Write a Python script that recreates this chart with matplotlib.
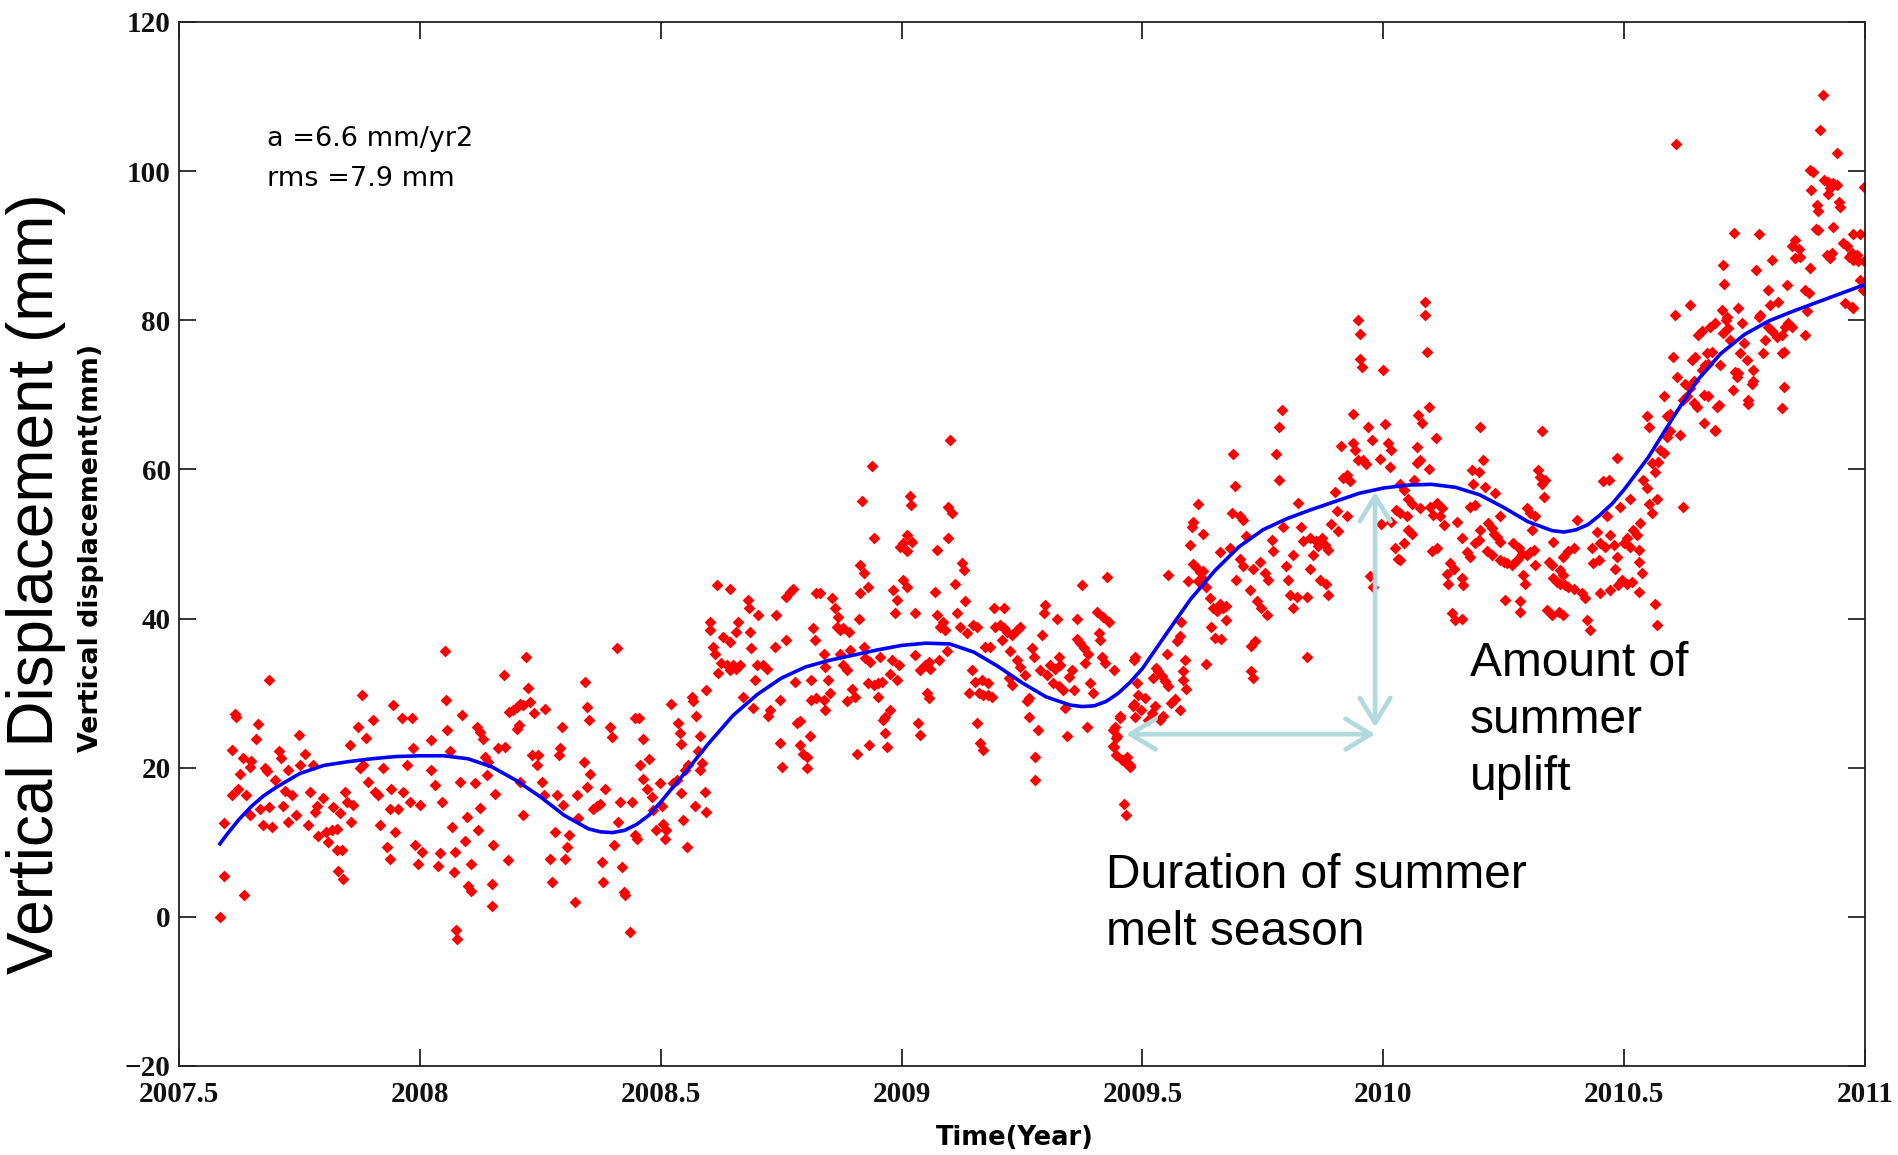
import numpy as np
import matplotlib
matplotlib.use('Agg')
import matplotlib.pyplot as plt

# smoothed fit (blue curve)
fit_year = [2007.585, 2007.60, 2007.625, 2007.65, 2007.675, 2007.70, 2007.75, 2007.80,
            2007.85, 2007.90, 2007.95, 2008.00, 2008.05, 2008.10, 2008.15, 2008.20,
            2008.25, 2008.30, 2008.35, 2008.375, 2008.40, 2008.425, 2008.45, 2008.475,
            2008.50, 2008.55, 2008.60, 2008.65, 2008.70, 2008.75, 2008.80, 2008.85,
            2008.90, 2008.95, 2009.00, 2009.05, 2009.10, 2009.15, 2009.20, 2009.25,
            2009.30, 2009.35, 2009.375, 2009.40, 2009.425, 2009.45, 2009.475, 2009.50,
            2009.55, 2009.60, 2009.65, 2009.70, 2009.75, 2009.80, 2009.85, 2009.90,
            2009.95, 2010.00, 2010.05, 2010.10, 2010.15, 2010.20, 2010.25, 2010.30,
            2010.35, 2010.375, 2010.40, 2010.425, 2010.45, 2010.475, 2010.50, 2010.55,
            2010.60, 2010.65, 2010.70, 2010.75, 2010.80, 2010.85, 2010.90, 2010.95,
            2011.00]
fit_mm = [9.8, 11.1, 13.1, 14.8, 16.2, 17.3, 19.2, 20.3,
          20.8, 21.2, 21.5, 21.6, 21.6, 21.2, 20.1, 18.3,
          16.1, 13.6, 11.8, 11.4, 11.3, 11.6, 12.4, 13.6,
          15.4, 19.3, 23.3, 27.0, 29.8, 32.0, 33.5, 34.4,
          35.1, 35.8, 36.4, 36.7, 36.6, 35.5, 33.6, 31.4,
          29.5, 28.4, 28.2, 28.3, 28.9, 30.0, 31.5, 33.3,
          38.0, 42.6, 46.4, 49.6, 51.9, 53.4, 54.6, 55.7,
          56.8, 57.5, 57.9, 58.0, 57.6, 56.6, 54.9, 53.0,
          51.8, 51.6, 51.9, 52.6, 53.9, 55.4, 57.3, 61.6,
          66.8, 71.8, 75.5, 78.1, 79.9, 81.2, 82.4, 83.6,
          84.8]

# daily GPS solutions, grouped by stretch of time (year, mm)
pts_2007 = [
    (2007.585, 0.0), (2007.593, 5.5), (2007.593, 12.6), (2007.609, 22.4), (2007.609, 16.3),
    (2007.616, 27.2), (2007.618, 26.8), (2007.627, 19.2), (2007.623, 17.2), (2007.633, 21.3),
    (2007.635, 2.9), (2007.640, 16.3), (2007.647, 13.6), (2007.650, 20.9), (2007.647, 20.1),
    (2007.660, 23.9), (2007.663, 25.8), (2007.668, 14.5), (2007.675, 12.3), (2007.678, 19.9),
    (2007.683, 19.5), (2007.686, 31.8), (2007.687, 14.7), (2007.694, 12.1), (2007.699, 18.3),
    (2007.708, 22.2), (2007.711, 21.3), (2007.716, 14.9), (2007.720, 16.9), (2007.727, 19.7),
    (2007.727, 12.7), (2007.734, 16.3), (2007.743, 13.6), (2007.750, 24.4), (2007.752, 20.4),
    (2007.762, 21.9), (2007.768, 12.3), (2007.772, 16.8), (2007.779, 20.4), (2007.782, 14.0),
    (2007.786, 14.9), (2007.789, 10.9), (2007.798, 15.9), (2007.806, 11.4), (2007.817, 11.6),
    (2007.827, 11.8), (2007.810, 10.1), (2007.820, 14.7), (2007.827, 9.0), (2007.838, 9.0),
    (2007.831, 6.2), (2007.841, 5.1), (2007.834, 13.9), (2007.845, 16.8), (2007.848, 15.4),
    (2007.855, 23.0), (2007.858, 12.7), (2007.862, 15.0), (2007.871, 25.5), (2007.876, 19.9),
    (2007.883, 20.4), (2007.879, 29.8), (2007.889, 24.0), (2007.893, 18.1), (2007.903, 26.4),
    (2007.907, 16.8), (2007.914, 16.3), (2007.917, 12.3), (2007.924, 19.9), (2007.931, 9.4),
    (2007.937, 7.8), (2007.938, 14.5), (2007.941, 17.2), (2007.945, 28.4), (2007.948, 11.4),
    (2007.955, 14.5), (2007.962, 26.7), (2007.983, 26.7), (2007.966, 16.8), (2007.973, 20.4),
    (2007.980, 15.4), (2007.986, 22.6), (2007.990, 9.6), (2007.997, 7.1), (2008.000, 15.0),
    (2008.004, 8.7), (2008.024, 23.7), (2008.024, 19.7), (2008.031, 17.7), (2008.038, 6.8),
    (2008.042, 8.5), (2008.045, 15.4), (2008.052, 35.6), (2008.054, 29.1), (2008.056, 25.1),
    (2008.063, 22.2), (2008.066, 12.1), (2008.070, 6.0), (2008.073, 8.7), (2008.075, -1.8),
    (2008.078, -3.0), (2008.083, 18.1), (2008.087, 27.1), (2008.094, 10.2), (2008.097, 13.4),
    (2008.100, 4.2), (2008.107, 3.5), (2008.107, 7.1), (2008.114, 17.9), (2008.118, 25.5),
    (2008.125, 24.8), (2008.132, 23.9), (2008.121, 11.6), (2008.125, 14.6), (2008.135, 21.4),
    (2008.142, 20.8), (2008.139, 19.0), (2008.149, 4.4), (2008.149, 1.5), (2008.152, 9.6),
    (2008.156, 16.5), (2008.163, 22.6),
]

pts_2008a = [
    (2008.174, 32.4), (2008.177, 22.8), (2008.184, 7.6), (2008.186, 27.5), (2008.194, 27.7),
    (2008.201, 28.1), (2008.208, 28.6), (2008.215, 28.4), (2008.201, 25.2), (2008.205, 25.7),
    (2008.208, 18.1), (2008.215, 13.6), (2008.221, 34.9), (2008.224, 30.7), (2008.229, 28.8),
    (2008.232, 21.7), (2008.246, 21.7), (2008.236, 27.3), (2008.243, 20.3), (2008.253, 18.1),
    (2008.260, 27.9), (2008.257, 16.3), (2008.270, 7.8), (2008.274, 4.7), (2008.281, 11.4),
    (2008.284, 16.3), (2008.288, 21.7), (2008.291, 22.6), (2008.295, 25.5), (2008.298, 15.0),
    (2008.302, 7.8), (2008.305, 9.4), (2008.309, 11.0), (2008.322, 2.0), (2008.326, 16.3),
    (2008.329, 13.2), (2008.340, 20.8), (2008.343, 31.5), (2008.347, 28.2), (2008.352, 26.4),
    (2008.347, 17.4), (2008.354, 19.2), (2008.360, 14.4), (2008.367, 14.8), (2008.374, 15.2),
    (2008.378, 7.4), (2008.381, 4.7), (2008.385, 17.2), (2008.395, 25.5), (2008.399, 24.1),
    (2008.402, 9.6), (2008.409, 36.0), (2008.412, 12.7), (2008.416, 15.4), (2008.419, 6.7),
    (2008.423, 3.3), (2008.426, 2.9), (2008.437, -2.0), (2008.440, 15.4), (2008.447, 26.6),
    (2008.454, 26.6), (2008.447, 11.0), (2008.450, 10.5), (2008.457, 20.3), (2008.464, 23.9),
    (2008.464, 18.5), (2008.471, 17.2), (2008.475, 21.2),
]

pts_2008b = [
    (2008.481, 16.1), (2008.484, 14.3), (2008.491, 11.6), (2008.498, 17.9), (2008.502, 14.8),
    (2008.505, 12.5), (2008.512, 11.6), (2008.509, 10.5), (2008.522, 28.6), (2008.526, 17.9),
    (2008.533, 18.4), (2008.536, 26.0), (2008.540, 24.6), (2008.543, 23.2), (2008.543, 16.6),
    (2008.547, 13.0), (2008.550, 19.7), (2008.557, 20.4), (2008.554, 9.4), (2008.564, 29.5),
    (2008.567, 28.9), (2008.571, 14.8), (2008.574, 26.9), (2008.578, 22.2), (2008.581, 24.2),
    (2008.581, 19.7), (2008.585, 20.6), (2008.592, 16.8), (2008.595, 30.4), (2008.595, 14.1),
    (2008.602, 39.6), (2008.603, 38.5), (2008.609, 36.2), (2008.616, 44.5), (2008.612, 35.3),
    (2008.619, 32.7), (2008.626, 34.0), (2008.637, 33.8), (2008.643, 33.1), (2008.650, 33.8),
    (2008.657, 33.3), (2008.664, 33.8), (2008.630, 37.5), (2008.643, 36.9), (2008.644, 44.0),
    (2008.657, 38.2), (2008.661, 39.6), (2008.670, 29.5), (2008.682, 42.5), (2008.684, 41.4),
    (2008.685, 38.2), (2008.688, 36.0), (2008.692, 28.0), (2008.695, 31.8), (2008.699, 33.8),
    (2008.713, 33.8), (2008.720, 33.3), (2008.702, 40.5), (2008.723, 26.9), (2008.727, 27.7),
    (2008.737, 36.2), (2008.740, 40.5), (2008.747, 29.1), (2008.747, 23.3), (2008.751, 20.1),
    (2008.761, 42.9), (2008.768, 43.6), (2008.775, 44.0), (2008.761, 37.1), (2008.778, 31.5),
    (2008.782, 26.0), (2008.789, 26.2), (2008.789, 23.0), (2008.796, 21.9), (2008.803, 21.5),
    (2008.803, 19.9), (2008.813, 31.8), (2008.817, 38.7), (2008.820, 37.1), (2008.823, 43.4),
    (2008.823, 29.3), (2008.810, 24.2), (2008.813, 29.1),
]

pts_2009a = [
    (2008.831, 43.4), (2008.838, 35.3), (2008.841, 33.5), (2008.838, 29.1), (2008.841, 27.7),
    (2008.848, 31.8), (2008.852, 30.0), (2008.855, 42.7), (2008.862, 41.4), (2008.866, 38.9),
    (2008.873, 38.5), (2008.879, 38.7), (2008.890, 38.2), (2008.869, 40.2), (2008.873, 35.3),
    (2008.879, 33.8), (2008.886, 33.1), (2008.886, 28.9), (2008.893, 35.8), (2008.897, 30.6),
    (2008.904, 29.5), (2008.907, 21.9), (2008.911, 40.0), (2008.914, 47.2), (2008.921, 46.1),
    (2008.918, 55.7), (2008.914, 43.4), (2008.931, 44.3), (2008.921, 36.2), (2008.924, 34.7),
    (2008.935, 34.2), (2008.931, 31.3), (2008.933, 23.0), (2008.938, 60.4), (2008.942, 50.8),
    (2008.942, 31.1), (2008.952, 31.3), (2008.959, 31.5), (2008.952, 29.5), (2008.956, 34.9),
    (2008.962, 26.4), (2008.966, 26.8), (2008.966, 24.6), (2008.969, 22.8), (2008.976, 27.7),
    (2008.976, 32.6), (2008.980, 34.4), (2008.983, 43.8), (2008.990, 42.5), (2008.987, 40.7),
    (2008.990, 31.8), (2008.994, 33.8), (2008.997, 49.6), (2009.004, 50.1), (2009.004, 45.2),
    (2009.011, 44.3), (2009.011, 51.2), (2009.021, 50.3), (2009.012, 49.0), (2009.018, 56.4),
    (2009.019, 55.2), (2009.028, 40.7), (2009.028, 35.1), (2009.035, 26.0), (2009.039, 24.4),
    (2009.039, 33.1), (2009.049, 33.8), (2009.056, 34.2), (2009.059, 33.3), (2009.052, 30.0),
    (2009.056, 29.3), (2009.070, 43.6), (2009.073, 49.2), (2009.073, 40.5), (2009.080, 38.9),
    (2009.087, 39.6), (2009.091, 38.5), (2009.077, 34.4), (2009.094, 35.6), (2009.097, 55.0),
    (2009.104, 54.1), (2009.097, 50.8), (2009.101, 63.9), (2009.111, 44.7), (2009.115, 40.7),
    (2009.122, 38.9), (2009.125, 47.4), (2009.129, 46.5), (2009.132, 42.3), (2009.135, 38.0),
    (2009.139, 30.0), (2009.146, 33.1), (2009.149, 39.1), (2009.156, 38.9), (2009.153, 31.5),
    (2009.160, 30.0), (2009.170, 29.8), (2009.180, 29.8), (2009.187, 29.5), (2009.156, 26.0),
    (2009.163, 23.3), (2009.170, 22.4), (2009.167, 31.8), (2009.174, 36.2), (2009.184, 36.2),
    (2009.180, 31.3),
]

pts_2009b = [
    (2009.191, 41.4), (2009.212, 41.4), (2009.194, 38.9), (2009.205, 39.1), (2009.212, 38.7),
    (2009.219, 38.2), (2009.229, 37.8), (2009.239, 38.5), (2009.246, 38.9), (2009.208, 37.1),
    (2009.222, 32.0), (2009.225, 35.6), (2009.229, 31.1), (2009.239, 34.4), (2009.246, 33.5),
    (2009.257, 32.4), (2009.264, 29.3), (2009.260, 28.9), (2009.264, 26.8), (2009.270, 36.0),
    (2009.274, 34.9), (2009.277, 21.5), (2009.277, 18.4), (2009.284, 25.1), (2009.288, 33.1),
    (2009.291, 37.8), (2009.295, 40.7), (2009.298, 41.8), (2009.302, 32.4), (2009.308, 33.8),
    (2009.319, 33.3), (2009.329, 33.8), (2009.315, 31.3), (2009.326, 30.9), (2009.336, 30.4),
    (2009.322, 40.0), (2009.326, 34.9), (2009.340, 28.0), (2009.343, 24.2), (2009.347, 32.2),
    (2009.353, 33.1), (2009.357, 30.4), (2009.364, 40.0), (2009.364, 37.3), (2009.371, 36.7),
    (2009.378, 36.0), (2009.374, 44.5), (2009.381, 34.0), (2009.385, 25.5), (2009.388, 35.3),
    (2009.392, 31.3), (2009.398, 30.0), (2009.405, 40.9), (2009.419, 40.2), (2009.430, 39.6),
    (2009.409, 38.0), (2009.412, 37.1), (2009.416, 34.9), (2009.426, 45.6), (2009.423, 34.0),
    (2009.440, 33.1), (2009.443, 25.5), (2009.447, 24.2), (2009.440, 22.8), (2009.454, 26.6),
    (2009.461, 15.2), (2009.466, 13.6), (2009.468, 21.5), (2009.475, 20.1), (2009.482, 34.4),
    (2009.482, 28.6), (2009.485, 26.8), (2009.488, 31.3),
]

pts_2009c = [
    (2009.439, 25.0), (2009.446, 24.0), (2009.439, 22.9), (2009.446, 21.7), (2009.457, 21.0),
    (2009.467, 20.5), (2009.474, 20.3), (2009.453, 26.9), (2009.481, 28.3), (2009.491, 29.7),
    (2009.498, 27.8), (2009.505, 29.4), (2009.512, 26.4), (2009.519, 27.3), (2009.526, 28.3),
    (2009.536, 26.4), (2009.543, 26.9), (2009.522, 32.0), (2009.533, 33.0), (2009.540, 32.3),
    (2009.546, 31.6), (2009.529, 33.4), (2009.550, 35.3), (2009.484, 34.9), (2009.553, 30.9),
    (2009.560, 28.7), (2009.567, 29.2), (2009.578, 27.8), (2009.571, 37.0), (2009.578, 37.7),
    (2009.581, 39.6), (2009.585, 33.0), (2009.588, 34.4), (2009.591, 30.6), (2009.585, 31.8),
    (2009.633, 33.9), (2009.553, 45.9), (2009.595, 45.0), (2009.598, 49.9), (2009.602, 52.3),
    (2009.605, 53.0), (2009.616, 55.3), (2009.605, 47.3), (2009.612, 46.9), (2009.619, 46.2),
    (2009.626, 46.4), (2009.616, 45.0), (2009.623, 45.4), (2009.626, 51.3), (2009.633, 44.3),
    (2009.640, 42.8), (2009.647, 41.4), (2009.654, 41.0), (2009.661, 41.9), (2009.668, 41.4),
    (2009.674, 41.7), (2009.643, 38.9), (2009.650, 37.4), (2009.664, 37.2), (2009.661, 48.9),
    (2009.674, 39.8), (2009.681, 49.4), (2009.685, 54.1), (2009.688, 62.1), (2009.692, 57.8),
    (2009.695, 45.2), (2009.702, 53.7), (2009.709, 53.2), (2009.702, 48.0), (2009.709, 47.1),
    (2009.716, 51.1), (2009.723, 43.8), (2009.730, 46.6), (2009.737, 42.4), (2009.726, 36.3),
    (2009.733, 37.0), (2009.726, 33.0), (2009.730, 32.0), (2009.744, 47.6), (2009.747, 41.4),
    (2009.758, 40.5), (2009.754, 46.1), (2009.761, 45.2), (2009.768, 50.6), (2009.771, 49.0),
    (2009.778, 62.1), (2009.784, 65.7), (2009.789, 68.0), (2009.784, 58.6), (2009.792, 52.3),
    (2009.799, 47.1), (2009.803, 45.2), (2009.806, 43.1), (2009.813, 41.4), (2009.813, 48.5),
    (2009.820, 42.9), (2009.823, 55.5), (2009.830, 52.3), (2009.834, 50.4), (2009.848, 50.8),
    (2009.861, 50.4), (2009.841, 34.9), (2009.841, 42.9), (2009.848, 46.6), (2009.854, 48.5),
    (2009.865, 49.7), (2009.872, 50.8), (2009.879, 49.9), (2009.886, 49.2), (2009.868, 45.2),
    (2009.882, 44.7), (2009.886, 43.1), (2009.892, 52.7), (2009.899, 57.0), (2009.903, 54.4),
    (2009.906, 51.8), (2009.913, 63.1), (2009.917, 58.8), (2009.924, 59.3), (2009.931, 58.4),
    (2009.924, 53.7), (2009.937, 67.5), (2009.937, 63.6), (2009.941, 62.6), (2009.948, 61.2),
    (2009.948, 80.0), (2009.951, 78.1), (2009.951, 74.8), (2009.955, 73.7), (2009.969, 65.7),
    (2009.976, 64.0), (2009.958, 61.2), (2009.965, 60.7), (2009.972, 45.7), (2009.979, 44.3),
    (2009.993, 61.4), (2009.999, 73.4), (2010.003, 66.1), (2010.010, 63.6), (2010.017, 62.6),
    (2010.014, 60.3), (2009.996, 52.7), (2010.017, 53.0), (2010.027, 54.6), (2010.024, 49.4),
    (2010.031, 48.0),
]

pts_2010a = [
    (2010.087, 82.5), (2010.087, 80.7), (2010.090, 75.8), (2010.094, 68.4), (2010.073, 67.3),
    (2010.080, 66.2), (2010.110, 64.2), (2010.070, 63.0), (2010.077, 61.3), (2010.070, 60.8),
    (2010.094, 60.1), (2010.063, 58.6), (2010.035, 58.1), (2010.042, 57.2), (2010.052, 56.1),
    (2010.059, 55.4), (2010.035, 54.1), (2010.049, 53.7), (2010.077, 54.8), (2010.097, 55.0),
    (2010.111, 55.5), (2010.122, 54.8), (2010.104, 53.9), (2010.118, 53.7), (2010.125, 52.5),
    (2010.052, 51.9), (2010.059, 51.4), (2010.042, 50.1), (2010.035, 47.8), (2010.101, 49.0),
    (2010.111, 49.4), (2010.153, 53.0), (2010.163, 50.8), (2010.173, 48.9), (2010.180, 48.3),
    (2010.139, 47.4), (2010.146, 46.7), (2010.132, 46.0), (2010.135, 44.7), (2010.163, 45.4),
    (2010.166, 44.5), (2010.142, 40.7), (2010.149, 39.8), (2010.163, 40.0), (2010.200, 65.7),
    (2010.208, 61.3), (2010.184, 59.9), (2010.198, 59.7), (2010.211, 57.7), (2010.187, 58.1),
    (2010.232, 56.8), (2010.180, 55.0), (2010.191, 55.2), (2010.201, 51.9), (2010.218, 52.8),
    (2010.225, 52.1), (2010.229, 51.4), (2010.191, 50.1), (2010.198, 50.5), (2010.215, 49.0),
    (2010.225, 48.5), (2010.236, 51.0), (2010.243, 50.3), (2010.243, 53.7), (2010.243, 47.8),
    (2010.250, 47.6), (2010.256, 47.4), (2010.267, 47.2), (2010.277, 47.8), (2010.270, 50.1),
    (2010.281, 49.4), (2010.288, 48.7), (2010.298, 48.5), (2010.305, 48.9), (2010.312, 49.2),
    (2010.253, 42.5), (2010.284, 42.3), (2010.284, 40.9), (2010.291, 45.8), (2010.295, 44.7),
    (2010.298, 54.8), (2010.305, 54.1), (2010.315, 53.7), (2010.308, 51.9), (2010.315, 47.2),
    (2010.322, 59.9), (2010.326, 59.0), (2010.329, 58.1), (2010.336, 58.6), (2010.330, 65.1),
    (2010.333, 56.3),
]

pts_2010b = [
    (2010.339, 41.1), (2010.350, 40.5), (2010.364, 40.9), (2010.374, 40.5), (2010.343, 47.6),
    (2010.350, 47.2), (2010.353, 50.3), (2010.353, 45.4), (2010.360, 44.9), (2010.367, 46.5),
    (2010.374, 45.8), (2010.367, 44.7), (2010.378, 44.5), (2010.384, 44.3), (2010.395, 44.0),
    (2010.374, 48.3), (2010.384, 49.0), (2010.395, 49.4), (2010.402, 53.2), (2010.412, 43.4),
    (2010.419, 42.7), (2010.423, 39.8), (2010.429, 38.5), (2010.433, 49.4), (2010.436, 47.4),
    (2010.447, 47.8), (2010.443, 51.6), (2010.450, 43.4), (2010.450, 50.1), (2010.461, 49.6),
    (2010.457, 58.4), (2010.468, 58.6), (2010.464, 53.7), (2010.471, 51.2), (2010.478, 49.9),
    (2010.471, 43.8), (2010.481, 46.7), (2010.485, 61.5), (2010.485, 48.3), (2010.488, 44.5),
    (2010.492, 55.0), (2010.499, 50.1), (2010.506, 50.8), (2010.513, 49.6), (2010.495, 45.2),
    (2010.506, 44.7), (2010.516, 44.9), (2010.513, 56.1), (2010.519, 51.9), (2010.526, 51.2),
    (2010.530, 49.2), (2010.530, 47.6), (2010.533, 52.8), (2010.537, 46.1), (2010.530, 43.6),
    (2010.540, 58.6), (2010.547, 57.5), (2010.551, 55.4), (2010.557, 54.1), (2010.547, 67.1),
    (2010.551, 65.7), (2010.557, 60.8), (2010.564, 59.7), (2010.568, 56.1), (2010.564, 42.0),
    (2010.568, 39.1), (2010.575, 62.6), (2010.582, 62.2), (2010.571, 61.0), (2010.582, 69.8),
    (2010.589, 67.1), (2010.596, 67.5), (2010.589, 64.4), (2010.596, 65.1), (2010.602, 75.1),
    (2010.606, 80.7), (2010.608, 103.6), (2010.609, 72.4), (2010.616, 64.6), (2010.623, 55.0),
    (2010.623, 69.3), (2010.630, 69.8), (2010.627, 71.5), (2010.637, 70.9), (2010.644, 71.8),
    (2010.637, 82.0), (2010.641, 74.7), (2010.647, 75.1), (2010.644, 68.9), (2010.651, 68.4),
    (2010.654, 78.0), (2010.661, 78.5), (2010.661, 73.3), (2010.668, 74.0), (2010.675, 74.2),
    (2010.665, 70.0), (2010.675, 69.8), (2010.665, 66.2), (2010.672, 75.6), (2010.682, 75.8),
    (2010.679, 79.1), (2010.689, 79.6), (2010.689, 65.1), (2010.692, 68.4),
]

pts_2010c = [
    (2010.706, 87.4), (2010.707, 84.9), (2010.703, 81.4), (2010.712, 80.0), (2010.716, 78.9),
    (2010.713, 80.5), (2010.706, 78.3), (2010.699, 74.0), (2010.696, 68.6), (2010.689, 65.3),
    (2010.720, 77.3), (2010.725, 70.6), (2010.728, 91.7), (2010.730, 73.1), (2010.737, 72.9),
    (2010.734, 72.4), (2010.736, 81.6), (2010.741, 75.6), (2010.744, 79.6), (2010.748, 76.9),
    (2010.755, 74.7), (2010.758, 69.3), (2010.758, 68.8), (2010.765, 71.5), (2010.768, 71.8),
    (2010.768, 73.3), (2010.774, 86.7), (2010.779, 91.6), (2010.779, 80.5), (2010.782, 80.7),
    (2010.788, 75.6), (2010.793, 77.3), (2010.799, 84.1), (2010.799, 79.1), (2010.806, 78.5),
    (2010.817, 77.8), (2010.827, 78.0), (2010.834, 79.1), (2010.803, 82.0), (2010.806, 88.1),
    (2010.820, 82.5), (2010.827, 75.6), (2010.831, 75.8), (2010.827, 68.2), (2010.831, 71.1),
    (2010.839, 84.7), (2010.841, 79.6), (2010.848, 79.1), (2010.848, 89.9), (2010.855, 90.8),
    (2010.862, 89.6), (2010.855, 88.3), (2010.865, 88.5), (2010.876, 84.1), (2010.883, 83.6),
    (2010.876, 78.0), (2010.879, 81.2), (2010.885, 87.0), (2010.886, 100.2), (2010.893, 99.9),
    (2010.887, 97.5), (2010.900, 95.5), (2010.903, 94.6), (2010.898, 92.3), (2010.903, 92.1),
    (2010.912, 110.2), (2010.907, 105.5), (2010.914, 98.8), (2010.924, 98.6), (2010.928, 97.7),
    (2010.934, 98.4), (2010.941, 98.1), (2010.924, 97.0), (2010.921, 88.7), (2010.931, 89.0),
    (2010.928, 88.3), (2010.933, 92.5), (2010.941, 102.4), (2010.945, 95.9), (2010.948, 95.2),
    (2010.955, 90.3), (2010.962, 89.9), (2010.966, 88.5), (2010.972, 89.0), (2010.976, 88.1),
    (2010.983, 88.7), (2010.986, 87.9), (2010.959, 82.3), (2010.972, 81.8), (2010.976, 81.6),
    (2010.976, 91.6), (2010.990, 91.6), (2010.990, 85.4), (2010.997, 97.9), (2010.998, 88.0),
    (2010.995, 84.0),
]

segments = [pts_2007, pts_2008a, pts_2008b, pts_2009a, pts_2009b, pts_2009c,
            pts_2010a, pts_2010b, pts_2010c]
obs = np.array([p for seg in segments for p in seg])

fig = plt.figure(figsize=(18.99, 11.55), dpi=100)
ax = fig.add_axes([179 / 1899, 1 - 1066 / 1155, (1865 - 179) / 1899, (1066 - 22) / 1155])

ax.scatter(obs[:, 0], obs[:, 1], marker='D', s=36, color='#ff0000', linewidths=0, zorder=2)
ax.plot(fit_year, fit_mm, color='#0000ff', lw=2.6, zorder=3)

ax.set_xlim(2007.5, 2011)
ax.set_ylim(-20, 120)
ax.set_xticks([2007.5, 2008, 2008.5, 2009, 2009.5, 2010, 2010.5, 2011])
ax.set_xticklabels(['2007.5', '2008', '2008.5', '2009', '2009.5', '2010', '2010.5', '2011'])
ax.set_yticks(range(-20, 121, 20))
ax.tick_params(direction='in', length=12, width=1.2, top=True, right=True, colors='#111111')
ax.tick_params(axis='x', pad=11)
ax.tick_params(axis='y', pad=6)
for lab in ax.get_xticklabels() + ax.get_yticklabels():
    lab.set_fontfamily('Liberation Serif')
    lab.set_fontweight('bold')
    lab.set_fontsize(21)
for sp in ax.spines.values():
    sp.set_linewidth(1.3)
    sp.set_color('#222222')

ax.text(2007.683, 104.3, 'a =6.6 mm/yr2', fontsize=19.5, family='DejaVu Sans', va='center')
ax.text(2007.683, 98.9, 'rms =7.9 mm', fontsize=19.5, family='DejaVu Sans', va='center')

fig.text(1015 / 1899, 1 - 1138 / 1155, 'Time(Year)', fontsize=18.5, fontweight='bold',
         family='DejaVu Sans', ha='center', va='center')
fig.text(91 / 1899, 1 - 548 / 1155, 'Vertical displacement(mm)', fontsize=19.3,
         fontweight='bold', family='DejaVu Sans', rotation=90, ha='center', va='center')
fig.text(36 / 1899, 1 - 584 / 1155, 'Vertical Displacement (mm)', fontsize=46,
         family='Liberation Sans', rotation=90, ha='center', va='center')

# overlay annotations
arrow_col = '#b0dade'
arrow_style = '<->,head_length=0.9,head_width=0.55'
ax.annotate('', xy=(2009.466, 24.5), xytext=(2009.983, 24.5),
            arrowprops=dict(arrowstyle=arrow_style, color=arrow_col, lw=3.4,
                            shrinkA=0, shrinkB=0, mutation_scale=20), zorder=4)
ax.annotate('', xy=(2009.983, 57.0), xytext=(2009.983, 25.4),
            arrowprops=dict(arrowstyle=arrow_style, color=arrow_col, lw=3.4,
                            shrinkA=0, shrinkB=0, mutation_scale=20), zorder=4)

for txt, y in zip(['Amount of', 'summer', 'uplift'], [32.3, 24.7, 17.0]):
    ax.text(2010.180, y, txt, fontsize=34.5, family='Liberation Sans', va='baseline', zorder=5)
for txt, y in zip(['Duration of summer', 'melt season'], [3.9, -3.8]):
    ax.text(2009.424, y, txt, fontsize=34.5, family='Liberation Sans', va='baseline', zorder=5)

fig.savefig('out.png', dpi=100)
